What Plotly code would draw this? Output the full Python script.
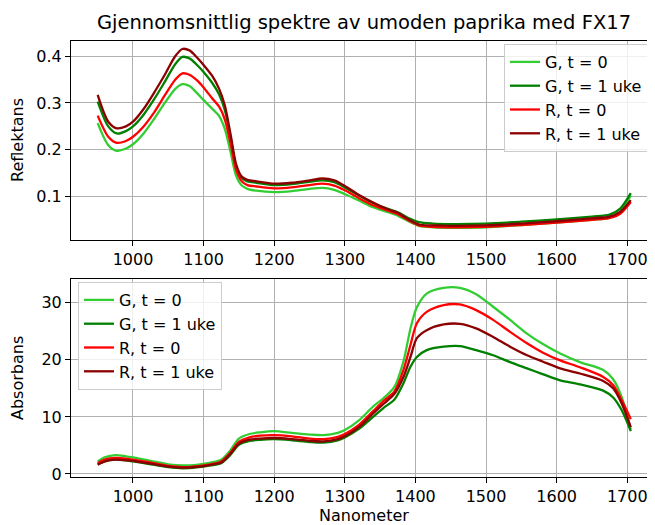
import plotly.graph_objects as go
from plotly.subplots import make_subplots

# ---------- data: reflectance (top) ----------
nm_refl = [950, 965, 977, 990, 1000, 1015, 1030, 1045, 1060, 1070, 1080, 1090, 1100,
           1112, 1122, 1130, 1138, 1146, 1154, 1162, 1175, 1200, 1225, 1250, 1268,
           1285, 1300, 1320, 1340, 1360, 1375, 1390, 1405, 1425, 1450, 1500, 1550,
           1600, 1650, 1675, 1690, 1705]

refl_G_t0 = [0.257, 0.210, 0.198, 0.203, 0.212, 0.235, 0.266, 0.300, 0.330, 0.340, 0.336,
             0.322, 0.306, 0.288, 0.272, 0.245, 0.197, 0.145, 0.124, 0.117, 0.113, 0.110,
             0.112, 0.117, 0.119, 0.115, 0.106, 0.092, 0.078, 0.068, 0.060, 0.048, 0.038,
             0.035, 0.034, 0.035, 0.040, 0.045, 0.051, 0.055, 0.068, 0.103]
refl_G_t1 = [0.303, 0.250, 0.235, 0.240, 0.250, 0.275, 0.308, 0.345, 0.383, 0.398, 0.395,
             0.382, 0.366, 0.343, 0.318, 0.285, 0.228, 0.165, 0.140, 0.133, 0.130, 0.125,
             0.127, 0.132, 0.135, 0.131, 0.120, 0.103, 0.087, 0.075, 0.067, 0.055, 0.046,
             0.043, 0.042, 0.043, 0.047, 0.052, 0.058, 0.062, 0.075, 0.108]
refl_R_t0 = [0.273, 0.228, 0.215, 0.219, 0.228, 0.250, 0.280, 0.316, 0.350, 0.363, 0.360,
             0.349, 0.333, 0.310, 0.292, 0.265, 0.215, 0.158, 0.133, 0.125, 0.122, 0.118,
             0.120, 0.125, 0.128, 0.124, 0.114, 0.097, 0.082, 0.071, 0.063, 0.050, 0.039,
             0.036, 0.035, 0.036, 0.040, 0.045, 0.051, 0.055, 0.064, 0.089]
refl_R_t1 = [0.317, 0.260, 0.246, 0.250, 0.260, 0.287, 0.322, 0.360, 0.400, 0.415, 0.412,
             0.398, 0.381, 0.358, 0.330, 0.295, 0.235, 0.170, 0.143, 0.136, 0.133, 0.128,
             0.130, 0.135, 0.139, 0.135, 0.123, 0.104, 0.088, 0.074, 0.066, 0.052, 0.041,
             0.039, 0.038, 0.039, 0.043, 0.048, 0.054, 0.058, 0.068, 0.093]

# ---------- data: absorbance (bottom) ----------
nm_abs = [950, 960, 975, 990, 1000, 1025, 1050, 1070, 1090, 1110, 1125, 1137, 1150, 1165,
          1180, 1200, 1225, 1250, 1270, 1290, 1300, 1320, 1340, 1355, 1370, 1383, 1393,
          1402, 1416, 1440, 1463, 1486, 1510, 1534, 1558, 1580, 1605, 1633, 1666, 1680,
          1692, 1705]

abs_G_t0 = [2.2, 2.9, 3.3, 3.1, 2.9, 2.3, 1.7, 1.5, 1.6, 2.0, 2.5, 4.0, 6.2, 7.0, 7.3, 7.5,
            7.2, 6.9, 6.8, 7.2, 7.7, 9.4, 11.8, 13.3, 15.2, 19.7, 25.5, 29.2, 31.6, 32.6,
            32.6, 31.5, 29.3, 27.0, 24.6, 22.8, 21.1, 19.6, 18.2, 16.6, 13.5, 7.8]
abs_G_t1 = [1.7, 2.2, 2.5, 2.4, 2.2, 1.7, 1.2, 1.0, 1.15, 1.5, 1.9, 3.2, 5.1, 5.8, 6.0, 6.1,
            5.9, 5.6, 5.5, 5.9, 6.4, 7.9, 10.0, 11.6, 13.0, 15.9, 18.8, 20.5, 21.7, 22.3,
            22.4, 21.7, 20.8, 19.6, 18.5, 17.5, 16.4, 15.7, 14.6, 13.4, 11.2, 7.5]
abs_R_t0 = [1.9, 2.5, 2.8, 2.7, 2.5, 2.0, 1.4, 1.2, 1.35, 1.7, 2.2, 3.6, 5.6, 6.4, 6.7, 6.8,
            6.6, 6.2, 6.1, 6.5, 7.0, 8.6, 11.0, 12.8, 14.4, 18.2, 22.6, 26.4, 28.4, 29.6,
            29.7, 28.7, 27.0, 24.9, 22.9, 21.3, 19.9, 18.7, 17.0, 15.6, 13.0, 9.6]
abs_R_t1 = [1.6, 2.2, 2.5, 2.4, 2.3, 1.8, 1.3, 1.1, 1.25, 1.6, 2.0, 3.4, 5.3, 6.0, 6.2, 6.3,
            6.1, 5.8, 5.7, 6.1, 6.6, 8.2, 10.6, 12.3, 14.0, 17.0, 20.5, 23.8, 25.2, 26.2,
            26.3, 25.5, 24.0, 22.3, 20.8, 19.7, 18.5, 17.6, 16.3, 15.0, 12.4, 8.2]

labels = ["G, t = 0", "G, t = 1 uke", "R, t = 0", "R, t = 1 uke"]
colors = ["#32cd32", "#008000", "#ff0000", "#8b0000"]

title = "Gjennomsnittlig spektre av umoden paprika med FX17"
x_label = "Nanometer"
y_label_top = "Reflektans"
y_label_bottom = "Absorbans"
x_ticks = [1000, 1100, 1200, 1300, 1400, 1500, 1600, 1700]
refl_ticks = [0.1, 0.2, 0.3, 0.4]
abs_ticks = [0, 10, 20, 30]

FONT = "DejaVu Sans"
FS = 16
OFF = 8                      # page body margin of the browser
W, H = 655 - OFF, 525 - OFF
L, R, T = 71 - OFF, 0, 41 - OFF
B = H - (477 - OFF)
PH = H - T - B
PW = W - L - R

fig = make_subplots(rows=2, cols=1, vertical_spacing=0.0)

for lab, col, ys in zip(labels, colors, [refl_G_t0, refl_G_t1, refl_R_t0, refl_R_t1]):
    fig.add_trace(go.Scatter(x=nm_refl, y=ys, mode="lines", name=lab,
                             line=dict(color=col, width=2.3, shape="spline", smoothing=0.8),
                             legend="legend"), row=1, col=1)
for lab, col, ys in zip(labels, colors, [abs_G_t0, abs_G_t1, abs_R_t0, abs_R_t1]):
    fig.add_trace(go.Scatter(x=nm_abs, y=ys, mode="lines", name=lab,
                             line=dict(color=col, width=2.3, shape="spline", smoothing=0.8),
                             legend="legend2"), row=2, col=1)

axis_common = dict(showgrid=True, gridcolor="#b0b0b0", gridwidth=1.1,
                   showline=True, linecolor="black", linewidth=1.1,
                   ticks="outside", ticklen=5, tickwidth=1.1, tickcolor="black",
                   zeroline=False, automargin=False,
                   tickfont=dict(family=FONT, size=FS, color="black"))

fig.update_xaxes(range=[912.2, 1739.3], tickvals=x_ticks, mirror=True, **axis_common)
fig.update_yaxes(**axis_common)


def px_x(p):
    return (p - OFF - L) / PW


def px_y(p):
    return (H - B - (p - OFF)) / PH


legend_style = dict(bgcolor="rgba(255,255,255,0.8)", bordercolor="#cccccc", borderwidth=1,
                    font=dict(family=FONT, size=FS, color="black"))

fig.update_layout(
    width=W, height=H,
    margin=dict(l=L, r=R, t=T, b=B, autoexpand=False),
    paper_bgcolor="white", plot_bgcolor="white",
    font=dict(family=FONT, size=FS, color="black"),
    title=dict(text=title, x=px_x(364), xref="paper", xanchor="center",
               y=1 - (22 - OFF) / H, yref="container", yanchor="middle",
               font=dict(family=FONT, size=19.5, color="black")),
    xaxis=dict(domain=[0, 1], anchor="y"),
    xaxis2=dict(domain=[0, 1], anchor="y2"),
    yaxis=dict(domain=[px_y(240), 1], range=[0.008, 0.432], tickvals=refl_ticks,
               tickformat=".1f"),
    yaxis2=dict(domain=[0, px_y(279)], range=[-0.53, 34.16], tickvals=abs_ticks),
    legend=dict(x=px_x(648), y=px_y(44), xanchor="right", yanchor="top", **legend_style),
    legend2=dict(x=px_x(78), y=px_y(282), xanchor="left", yanchor="top", **legend_style),
    annotations=[
        dict(text=x_label, xref="paper", yref="paper", x=px_x(364), y=px_y(515),
             xanchor="center", yanchor="middle", showarrow=False,
             font=dict(family=FONT, size=FS, color="black")),
        dict(text=y_label_top, xref="paper", yref="paper", x=px_x(17), y=px_y(140),
             xanchor="center", yanchor="middle", showarrow=False, textangle=-90,
             font=dict(family=FONT, size=FS, color="black")),
        dict(text=y_label_bottom, xref="paper", yref="paper", x=px_x(17), y=px_y(378),
             xanchor="center", yanchor="middle", showarrow=False, textangle=-90,
             font=dict(family=FONT, size=FS, color="black")),
    ],
)

fig.write_html("out.html")
